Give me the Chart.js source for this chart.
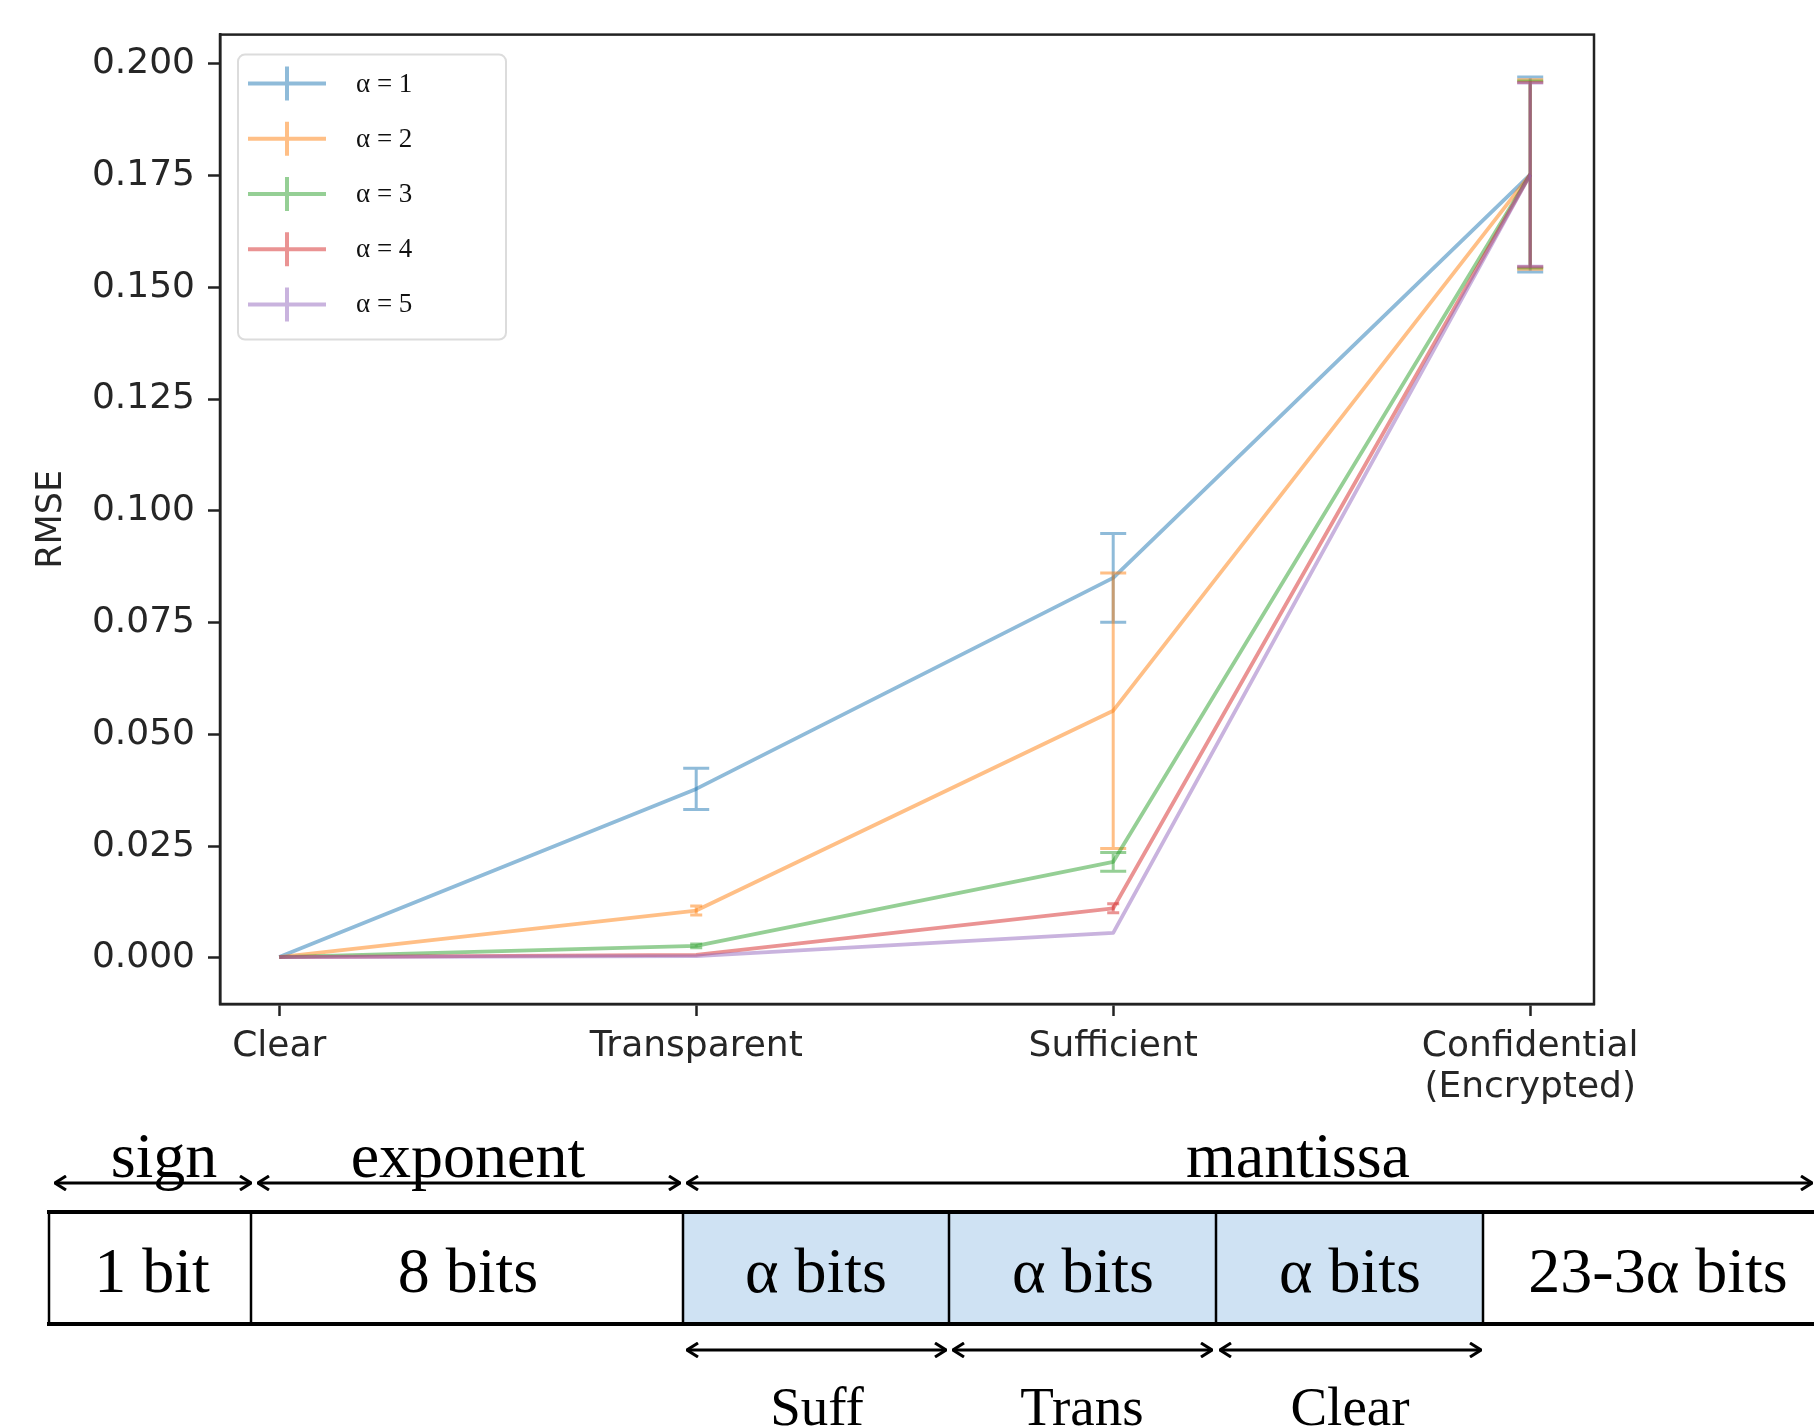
<!DOCTYPE html>
<html>
<head>
<meta charset="utf-8">
<script src="https://cdn.jsdelivr.net/npm/chart.js@4.4.1/dist/chart.umd.min.js"></script>
<style>
  html, body { margin: 0; padding: 0; background: #fff; }
  body { width: 1814px; height: 1428px; position: relative; overflow: hidden; }
  #chart { position: absolute; left: 0; top: 0; }
  #bits { position: absolute; left: 0; top: 0; }
  #bits text { font-family: "Liberation Serif", "Times New Roman", serif; fill: #000; }
</style>
</head>
<body>
<canvas id="chart" width="1814" height="1130"></canvas>

<svg id="bits" width="1814" height="1428">
  <defs>
    <marker id="ah" viewBox="0 0 14 16" refX="13" refY="8" markerWidth="14" markerHeight="16"
            markerUnits="userSpaceOnUse" orient="auto-start-reverse">
      <path d="M2,1 L13,8 L2,15" fill="none" stroke="#000" stroke-width="3"/>
    </marker>
  </defs>
  <!-- field names + arrows -->
  <text x="164" y="1177" font-size="64" text-anchor="middle">sign</text>
  <text x="468" y="1177" font-size="64" text-anchor="middle">exponent</text>
  <text x="1298" y="1177" font-size="64" text-anchor="middle">mantissa</text>
  <g stroke="#000" stroke-width="3" fill="none">
    <line x1="55" y1="1183" x2="251" y2="1183" marker-start="url(#ah)" marker-end="url(#ah)"/>
    <line x1="258" y1="1183" x2="680" y2="1183" marker-start="url(#ah)" marker-end="url(#ah)"/>
    <line x1="687" y1="1183" x2="1812" y2="1183" marker-start="url(#ah)" marker-end="url(#ah)"/>
  </g>
  <!-- bit layout -->
  <rect x="683" y="1212" width="800" height="112" fill="#cfe2f3"/>
  <g stroke="#000" fill="none">
    <line x1="47" y1="1212" x2="1814" y2="1212" stroke-width="4"/>
    <line x1="47" y1="1324" x2="1814" y2="1324" stroke-width="4"/>
    <line x1="49" y1="1212" x2="49" y2="1324" stroke-width="2.5"/>
    <line x1="251" y1="1212" x2="251" y2="1324" stroke-width="2.5"/>
    <line x1="683" y1="1212" x2="683" y2="1324" stroke-width="2.5"/>
    <line x1="949" y1="1212" x2="949" y2="1324" stroke-width="2.5"/>
    <line x1="1216" y1="1212" x2="1216" y2="1324" stroke-width="2.5"/>
    <line x1="1483" y1="1212" x2="1483" y2="1324" stroke-width="2.5"/>
  </g>
  <text x="152" y="1292" font-size="64" text-anchor="middle">1 bit</text>
  <text x="468" y="1292" font-size="64" text-anchor="middle">8 bits</text>
  <text x="816" y="1292" font-size="64" text-anchor="middle">α bits</text>
  <text x="1083" y="1292" font-size="64" text-anchor="middle">α bits</text>
  <text x="1350" y="1292" font-size="64" text-anchor="middle">α bits</text>
  <text x="1658" y="1292" font-size="64" text-anchor="middle">23-3α bits</text>
  <g stroke="#000" stroke-width="3" fill="none">
    <line x1="687" y1="1350" x2="946" y2="1350" marker-start="url(#ah)" marker-end="url(#ah)"/>
    <line x1="953" y1="1350" x2="1212" y2="1350" marker-start="url(#ah)" marker-end="url(#ah)"/>
    <line x1="1220" y1="1350" x2="1481" y2="1350" marker-start="url(#ah)" marker-end="url(#ah)"/>
  </g>
  <text x="817" y="1425" font-size="55" text-anchor="middle">Suff</text>
  <text x="1082" y="1425" font-size="55" text-anchor="middle">Trans</text>
  <text x="1350" y="1425" font-size="55" text-anchor="middle">Clear</text>
</svg>

<script>
// categories on the x axis
const categories = ['Clear', 'Transparent', 'Sufficient', ['Confidential', '(Encrypted)']];
const seriesNames = ['α = 1', 'α = 2', 'α = 3', 'α = 4', 'α = 5'];

// mean RMSE per category
const rmseA1 = [0.0002, 0.0378, 0.0850, 0.1752];
const rmseA2 = [0.0002, 0.0106, 0.0553, 0.1752];
const rmseA3 = [0.0002, 0.0027, 0.0215, 0.1752];
const rmseA4 = [0.0002, 0.0007, 0.0111, 0.1752];
const rmseA5 = [0.0002, 0.0004, 0.0056, 0.1752];

// error (+/-) per category, 0 = no visible bar
const errA1 = [0, 0.0046, 0.0099, 0.0218];
const errA2 = [0, 0.0010, 0.0308, 0.0212];
const errA3 = [0, 0.0004, 0.0021, 0.0209];
const errA4 = [0, 0, 0.0010, 0.0206];
const errA5 = [0, 0, 0, 0.0205];

const yTickValues = [0, 0.025, 0.05, 0.075, 0.1, 0.125, 0.15, 0.175, 0.2];
const yTickLabels = ['0.000', '0.025', '0.050', '0.075', '0.100', '0.125', '0.150', '0.175', '0.200'];

const colors = ['rgba(31,119,180,0.5)', 'rgba(255,127,14,0.5)', 'rgba(44,160,44,0.5)',
                'rgba(214,39,40,0.5)', 'rgba(148,103,189,0.5)'];

const allRmse = [rmseA1, rmseA2, rmseA3, rmseA4, rmseA5];
const allErr = [errA1, errA2, errA3, errA4, errA5];

const textColor = '#262626';
const axisColor = '#222';

// draw error bars right after each line, like matplotlib does
const errorBars = {
  id: 'errorBars',
  afterDatasetDraw(chart, args) {
    const ctx = chart.ctx;
    const xs = chart.scales.x, ys = chart.scales.y;
    const ds = chart.data.datasets[args.index];
    const errs = allErr[args.index];
    ctx.save();
    ctx.strokeStyle = ds.borderColor;
    ctx.lineWidth = 3;
    ds.data.forEach((p, i) => {
      const e = errs[i];
      if (!e) return;
      const px = xs.getPixelForValue(p.x);
      const top = ys.getPixelForValue(p.y + e);
      const bot = ys.getPixelForValue(p.y - e);
      const cap = e < 0.0015 ? 6 : 13; // tiny bars blur into short caps in the source
      ctx.beginPath();
      ctx.moveTo(px, top); ctx.lineTo(px, bot);
      ctx.moveTo(px - cap, top); ctx.lineTo(px + cap, top);
      ctx.moveTo(px - cap, bot); ctx.lineTo(px + cap, bot);
      ctx.stroke();
    });
    ctx.restore();
  }
};

// full frame + legend in upper left
const frameAndLegend = {
  id: 'frameAndLegend',
  afterDraw(chart) {
    const ctx = chart.ctx;
    const a = chart.chartArea;
    ctx.save();
    ctx.strokeStyle = axisColor;
    ctx.lineWidth = 2.5;
    ctx.strokeRect(a.left, a.top, a.right - a.left, a.bottom - a.top);

    // legend box
    const bx = a.left + 18, by = a.top + 20, bw = 268, bh = 285, r = 7;
    ctx.beginPath();
    ctx.roundRect(bx, by, bw, bh, r);
    ctx.fillStyle = 'rgba(255,255,255,0.8)';
    ctx.fill();
    ctx.strokeStyle = '#dcdcdc';
    ctx.lineWidth = 2;
    ctx.stroke();

    ctx.font = '27px "Liberation Serif", serif';
    ctx.textBaseline = 'middle';
    ctx.textAlign = 'left';
    chart.data.datasets.forEach((ds, i) => {
      const cy = by + 29 + i * 55.2;
      ctx.strokeStyle = ds.borderColor;
      ctx.lineWidth = 4;
      ctx.beginPath();
      ctx.moveTo(bx + 10, cy); ctx.lineTo(bx + 88, cy);
      ctx.moveTo(bx + 49, cy - 17); ctx.lineTo(bx + 49, cy + 17);
      ctx.stroke();
      ctx.fillStyle = '#111';
      ctx.fillText(ds.label, bx + 118, cy + 1);
    });
    ctx.restore();
  }
};

const datasets = allRmse.map((vals, i) => ({
  label: seriesNames[i],
  data: vals.map((v, j) => ({ x: j, y: v })),
  borderColor: colors[i],
  backgroundColor: colors[i],
  borderWidth: 3.8,
  pointRadius: 0,
  tension: 0,
  fill: false,
  borderJoinStyle: 'round',
  order: allRmse.length - i
}));

new Chart(document.getElementById('chart').getContext('2d'), {
  type: 'line',
  data: { datasets: datasets },
  options: {
    responsive: false,
    animation: false,
    layout: { padding: { left: 0, top: 33, right: 220, bottom: 0 } },
    plugins: { legend: { display: false }, tooltip: { enabled: false } },
    scales: {
      x: {
        type: 'linear',
        min: -0.142,
        max: 3.153,
        afterFit: s => { s.height = 126; },
        afterBuildTicks: s => { s.ticks = categories.map((c, i) => ({ value: i })); },
        ticks: {
          callback: v => categories[v],
          font: { family: '"DejaVu Sans"', size: 36, lineHeight: 1.15 },
          color: textColor,
          padding: 10,
          maxRotation: 0,
          autoSkip: false
        },
        grid: { drawOnChartArea: false, drawTicks: true, tickLength: 12, tickWidth: 2.5, tickColor: axisColor },
        border: { display: true, color: axisColor, width: 2.5 }
      },
      y: {
        min: -0.0103,
        max: 0.2065,
        afterFit: s => { s.width = 220; },
        afterBuildTicks: s => { s.ticks = yTickValues.map(v => ({ value: v })); },
        ticks: {
          callback: (v, i) => yTickLabels[i],
          font: { family: '"DejaVu Sans"', size: 36 },
          color: textColor,
          padding: 13
        },
        grid: { drawOnChartArea: false, drawTicks: true, tickLength: 12, tickWidth: 2.5, tickColor: axisColor },
        border: { display: true, color: axisColor, width: 2.5 },
        title: {
          display: true,
          text: 'RMSE',
          font: { family: '"DejaVu Sans"', size: 35 },
          color: textColor,
          padding: { top: 31, bottom: 0 }
        }
      }
    }
  },
  plugins: [errorBars, frameAndLegend]
});
</script>
</body>
</html>
